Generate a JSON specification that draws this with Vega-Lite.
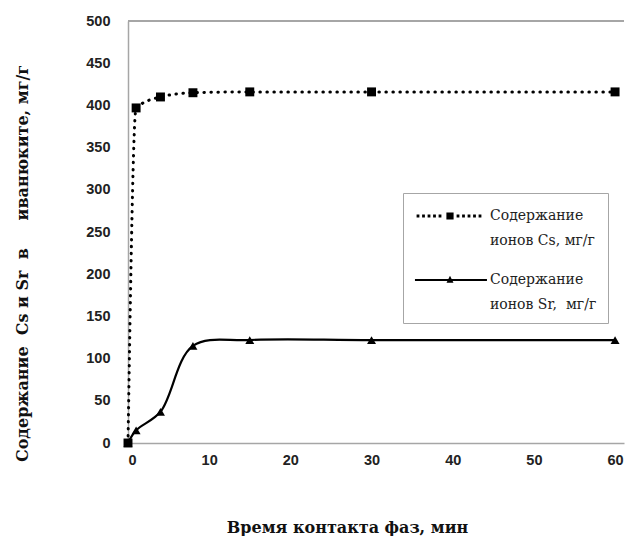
{
  "$schema": "https://vega.github.io/schema/vega-lite/v6.json",
  "width": 496,
  "height": 422,
  "autosize": {"type": "none"},
  "padding": {"left": 128, "top": 21, "right": 1, "bottom": 93},
  "background": "white",
  "config": {
    "view": {"stroke": null},
    "style": {"guide-label": {"lineHeight": 25}},
    "axis": {
      "grid": false,
      "ticks": false,
      "domainColor": "#a6a6a6",
      "domainWidth": 1.5,
      "labelFont": "Liberation Sans",
      "labelFontWeight": "bold",
      "labelFontSize": 14.5,
      "labelColor": "#222222",
      "titleFont": "DejaVu Serif",
      "titleFontWeight": "bold",
      "titleFontSize": 16,
      "titleColor": "#111111"
    }
  },
  "data": {
    "values": [
      {"t": 0, "v": 0, "series": "Cs"},
      {"t": 1, "v": 397, "series": "Cs"},
      {"t": 4, "v": 410, "series": "Cs"},
      {"t": 8, "v": 415, "series": "Cs"},
      {"t": 15, "v": 416, "series": "Cs"},
      {"t": 30, "v": 416, "series": "Cs"},
      {"t": 60, "v": 416, "series": "Cs"},
      {"t": 0, "v": 0, "series": "Sr"},
      {"t": 1, "v": 15, "series": "Sr"},
      {"t": 4, "v": 37, "series": "Sr"},
      {"t": 8, "v": 115, "series": "Sr"},
      {"t": 15, "v": 122, "series": "Sr"},
      {"t": 30, "v": 122, "series": "Sr"},
      {"t": 60, "v": 122, "series": "Sr"}
    ]
  },
  "encoding": {
    "x": {
      "field": "t", "type": "quantitative",
      "scale": {"domain": [0, 61.1], "nice": false},
      "axis": {"values": [0, 10, 20, 30, 40, 50, 60], "labelPadding": 10, "title": "Время контакта фаз, мин", "titleX": 219, "titleY": 89, "titleBaseline": "alphabetic", "titleAlign": "center"}
    },
    "y": {
      "field": "v", "type": "quantitative",
      "scale": {"domain": [0, 500], "nice": false},
      "axis": {"values": [0, 50, 100, 150, 200, 250, 300, 350, 400, 450, 500], "labelPadding": 18, "title": "Содержание\u00a0\u00a0Cs и Sr\u00a0\u00a0в\u00a0\u00a0\u00a0\u00a0\u00a0иванюките, мг/г", "titleX": -101, "titleY": 242, "titleAngle": -90, "titleBaseline": "alphabetic", "titleAlign": "center"}
    }
  },
  "layer": [
    {
      "mark": {"type": "rule", "color": "#a6a6a6", "strokeWidth": 1.5},
      "encoding": {"y": {"datum": 500}, "x": null}
    },
    {
      "transform": [{"filter": "datum.series == 'Cs'"}],
      "mark": {"type": "line", "interpolate": "monotone", "color": "black", "strokeWidth": 3, "strokeDash": [0.5, 6.5], "strokeCap": "round"}
    },
    {
      "transform": [{"filter": "datum.series == 'Sr'"}],
      "mark": {"type": "line", "interpolate": "catmull-rom", "color": "black", "strokeWidth": 2.2}
    },
    {
      "mark": {"type": "point", "filled": true, "color": "black", "opacity": 1, "size": 80},
      "encoding": {
        "shape": {"field": "series", "type": "nominal", "scale": {"range": ["square", "triangle-up"]}, "legend": null}
      }
    },
    {
      "mark": {"type": "point", "filled": true, "color": "black", "opacity": 0, "size": 576},
      "encoding": {
        "shape": {
          "field": "series", "type": "nominal",
          "scale": {"domain": ["Cs", "Sr"], "range": [
            "M-0.784,-0.117H-0.55V0.117H-0.784ZM-0.325,-0.117H-0.091V0.117H-0.325ZM0.133,-0.117H0.367V0.117H0.133ZM0.591,-0.117H0.825V0.117H0.591ZM1.05,-0.117H1.284V0.117H1.05ZM1.7,-0.3H2.3V0.3H1.7ZM2.55,-0.117H2.784V0.117H2.55ZM3.008,-0.117H3.242V0.117H3.008ZM3.466,-0.117H3.7V0.117H3.466ZM3.925,-0.117H4.159V0.117H3.925ZM4.383,-0.117H4.617V0.117H4.383Z",
            "M-0.92,-0.09H5.08V0.09H-0.92ZM1.71,0.22L2,-0.35L2.29,0.22Z"
          ]},
          "legend": {
            "title": null,
            "orient": "none",
            "legendX": 275,
            "legendY": 172,
            "padding": 11,
            "strokeColor": "#a6a6a6",
            "fillColor": "white",
            "symbolSize": 576,
            "symbolStrokeWidth": 0,
            "labelFont": "DejaVu Serif",
            "labelFontSize": 14,
            "labelColor": "#222222",
            "labelLimit": 0,
            "labelOffset": 52,
            "labelBaseline": "middle",
            "rowPadding": 20,
            "labelExpr": "datum.label == 'Cs' ? ['Содержание', 'ионов Cs, мг/г'] : ['Содержание', 'ионов Sr,\u00a0\u00a0мг/г']",
            "encode": {
              "symbols": {"update": {"opacity": {"value": 1}, "fillOpacity": {"value": 1}}}
            }
          }
        }
      }
    }
  ],
  "resolve": {"scale": {"shape": "independent"}, "legend": {"shape": "independent"}}
}
